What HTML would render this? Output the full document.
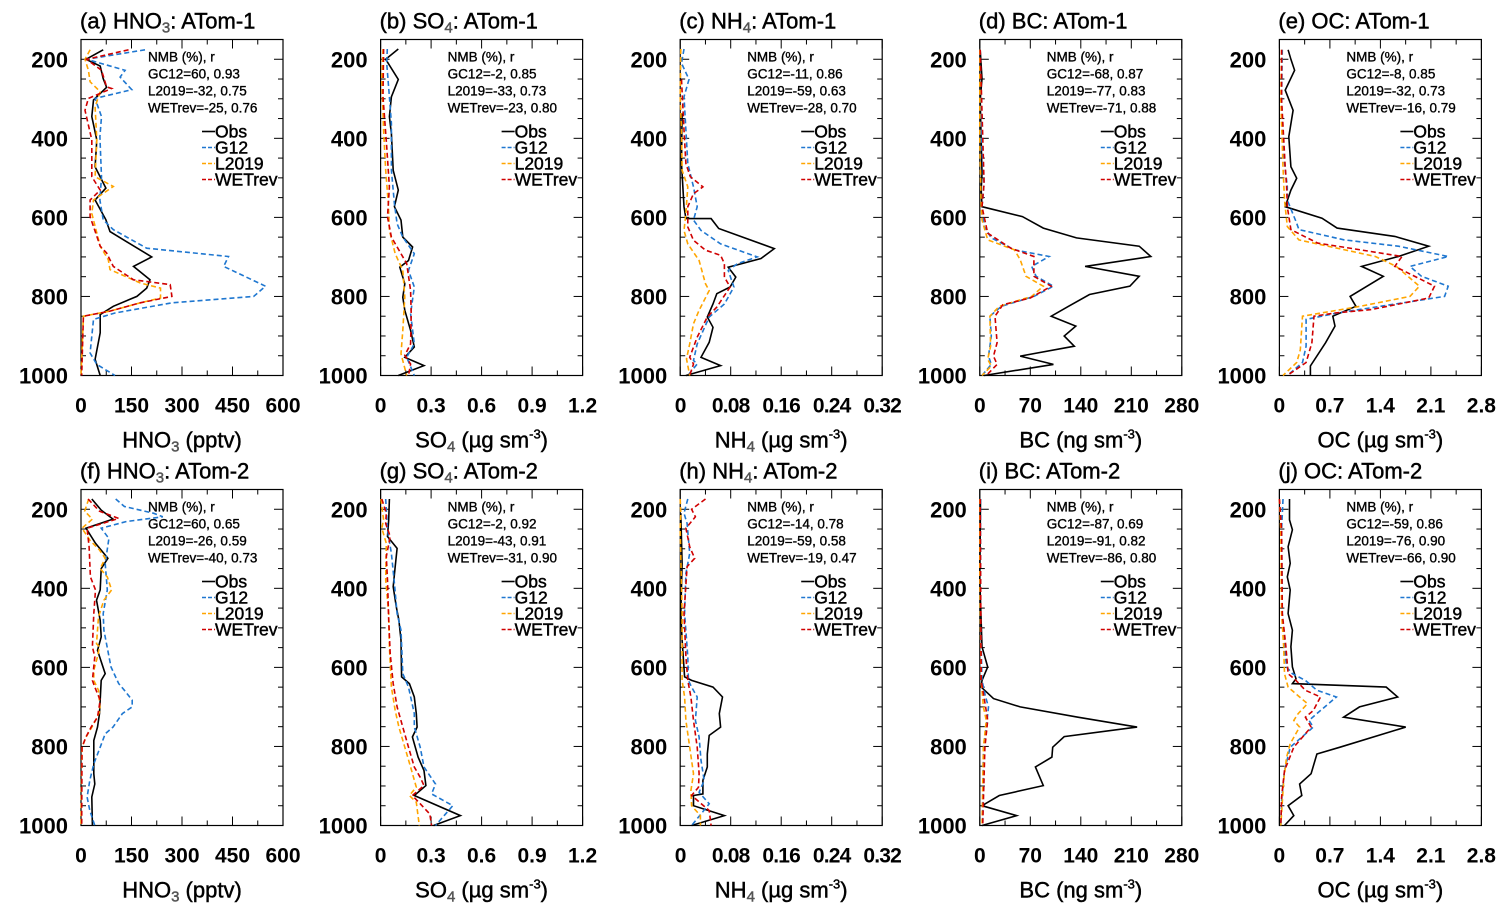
<!DOCTYPE html>
<html><head><meta charset="utf-8">
<style>
html,body{margin:0;padding:0;background:#fff;}
svg{display:block;font-family:"Liberation Sans",Arial,sans-serif;}
.hv{stroke:#000;stroke-width:0.45px;}
</style></head>
<body>
<svg id="fig" width="1510" height="915" viewBox="0 0 1510 915" xmlns="http://www.w3.org/2000/svg"></svg>
<script>
// ---- data: [pressure hPa, value] pairs ----
const aObs=[[176,66],[200,15],[217,57],[249,66],[271,76],[303,37],[345,32],[404,47],[472,42],[526,74],[556,42],[606,74],[636,86],[700,210],[724,156],[758,205],[779,195],[800,166],[825,96],[846,57],[892,57],[959,42],[1000,57]];
const aG12=[[176,190],[200,17],[228,131],[245,116],[277,151],[299,42],[345,61],[396,56],[497,61],[556,56],[606,66],[631,96],[678,195],[699,438],[724,424],[774,548],[800,513],[816,270],[842,101],[858,37],[943,27],[972,47],[1000,101]];
const aL19=[[176,27],[200,12],[228,22],[257,27],[282,57],[320,42],[404,47],[497,42],[522,96],[556,37],[590,32],[673,57],[707,81],[732,86],[766,176],[779,236],[804,236],[816,176],[837,86],[850,7],[1000,0]];
const aWET=[[176,141],[200,17],[228,61],[270,76],[274,91],[299,22],[329,12],[404,32],[497,32],[531,57],[556,27],[598,27],[673,57],[690,76],[724,96],[758,156],[770,265],[800,270],[816,176],[837,86],[850,7],[1000,2]];

const bObs=[[174,0.105],[200,0.03],[251,0.105],[295,0.064],[345,0.052],[388,0.064],[481,0.075],[531,0.105],[573,0.082],[607,0.121],[650,0.132],[675,0.19],[709,0.166],[726,0.114],[768,0.144],[802,0.132],[835,0.144],[886,0.178],[928,0.2],[954,0.144],[975,0.258],[1000,0.105]];
const bG12=[[174,0.04],[210,0.036],[295,0.052],[362,0.064],[481,0.064],[565,0.082],[616,0.098],[650,0.132],[692,0.2],[734,0.166],[776,0.2],[844,0.178],[920,0.2],[954,0.155],[1000,0.2]];
const bL19=[[174,0.014],[252,0.007],[379,0.018],[481,0.03],[565,0.046],[633,0.052],[692,0.087],[734,0.132],[802,0.144],[886,0.132],[945,0.121],[1000,0.155]];
const bWET=[[174,0.018],[295,0.014],[421,0.036],[523,0.052],[599,0.041],[650,0.064],[692,0.121],[717,0.155],[785,0.178],[844,0.182],[920,0.178],[949,0.144],[971,0.178],[1000,0.166]];

const cObs=[[337,0.003],[464,0.002],[573,0.006],[603,0.009],[603,0.049],[628,0.061],[679,0.149],[704,0.128],[726,0.076],[751,0.088],[776,0.079],[793,0.058],[819,0.052],[852,0.043],[878,0.052],[916,0.046],[954,0.033],[975,0.064],[1000,0.009]];
const cG12=[[174,0.006],[210,0.002],[251,0.014],[295,0.006],[379,0.009],[464,0.012],[523,0.021],[573,0.027],[607,0.021],[633,0.033],[667,0.064],[700,0.122],[717,0.091],[734,0.076],[776,0.085],[819,0.07],[852,0.046],[920,0.027],[962,0.021],[971,0.027],[1000,0.012]];
const cL19=[[174,0.001],[295,0],[379,0.002],[481,0.003],[523,0.012],[590,0.009],[633,0.006],[667,0.012],[709,0.03],[768,0.04],[785,0.046],[835,0.03],[869,0.021],[920,0.015],[958,0.01],[1000,0.015]];
const cWET=[[251,0.002],[379,0.006],[464,0.009],[497,0.016],[523,0.036],[540,0.021],[573,0.012],[624,0.012],[658,0.021],[683,0.04],[696,0.064],[717,0.07],[751,0.07],[776,0.079],[827,0.058],[852,0.043],[903,0.027],[954,0.015],[971,0.021],[1000,0.015]];

const dObs=[[176,0.5],[249,3],[303,0.5],[388,1.6],[488,3],[530,2],[573,3],[598,59],[627,88],[652,134],[673,221],[699,237],[724,146],[749,221],[774,208],[795,152],[825,123],[850,99],[875,133],[900,117],[926,131],[951,56],[972,102],[1000,6]];
const dG12=[[176,0.5],[388,1.6],[514,6],[573,3],[623,6],[652,16],[682,48],[699,96],[724,72],[749,78],[774,102],[800,75],[825,30],[850,14],[900,16],[951,12],[972,16],[1000,3]];
const dL19=[[176,0],[404,0],[556,1.6],[606,3],[657,11],[682,48],[707,56],[749,64],[774,88],[800,72],[825,27],[850,14],[926,15],[959,11],[976,16],[1000,3]];
const dWET=[[176,0.5],[514,6],[573,3],[640,11],[678,43],[699,75],[749,75],[774,99],[804,70],[821,32],[850,21],[917,24],[951,19],[972,24],[1000,9]];

const eObs=[[176,0.12],[200,0.16],[228,0.21],[278,0.08],[329,0.19],[396,0.13],[472,0.16],[501,0.24],[531,0.16],[573,0.08],[602,0.59],[627,0.8],[648,1.6],[673,2.07],[699,1.65],[724,1.14],[749,1.44],[800,0.98],[825,1.06],[850,0.74],[875,0.77],[917,0.64],[976,0.43],[1000,0.43]];
const eG12=[[176,0.04],[303,0.03],[430,0.05],[522,0.11],[556,0.11],[615,0.24],[631,0.27],[657,0.9],[673,1.65],[699,2.34],[724,1.81],[749,1.97],[774,2.34],[800,2.29],[842,0.8],[858,0.37],[926,0.37],[967,0.32],[1000,0.11]];
const eL19=[[176,0.03],[303,0.02],[472,0.05],[556,0.07],[623,0.11],[657,0.27],[699,1.33],[724,1.62],[774,1.94],[800,1.81],[825,1.12],[850,0.32],[935,0.29],[967,0.24],[1000,0.05]];
const eWET=[[176,0.03],[303,0.03],[472,0.08],[522,0.1],[573,0.11],[631,0.16],[665,0.53],[682,1.12],[699,1.7],[724,1.6],[774,2.15],[804,2.07],[833,1.28],[842,0.77],[850,0.48],[917,0.45],[967,0.37],[1000,0.11]];

const fObs=[[174,32],[202,60],[225,95],[248,15],[286,43],[324,80],[350,60],[404,57],[430,46],[481,57],[523,60],[557,49],[616,72],[633,60],[717,55],[751,49],[785,38],[869,38],[895,41],[928,32],[1000,34]];
const fG12=[[174,103],[193,129],[210,215],[219,243],[231,135],[248,60],[274,83],[337,72],[404,78],[464,66],[506,68],[599,89],[641,112],[658,129],[683,152],[700,152],[717,123],[751,95],[768,72],[802,57],[844,38],[886,26],[928,18],[962,26],[1000,41]];
const fL19=[[174,23],[205,11],[225,34],[248,3],[278,26],[303,55],[324,72],[350,57],[371,78],[404,91],[430,68],[472,52],[540,46],[548,55],[573,49],[607,38],[633,38],[658,52],[709,57],[743,38],[776,15],[802,3],[1000,0]];
const fWET=[[174,21],[205,55],[223,112],[248,18],[295,24],[371,28],[404,43],[464,38],[548,34],[573,41],[633,34],[650,41],[683,57],[726,49],[751,30],[776,15],[802,3],[1000,2]];

const gObs=[[174,0.052],[227,0.048],[269,0.041],[299,0.098],[345,0.087],[396,0.075],[447,0.093],[481,0.109],[531,0.121],[624,0.125],[641,0.171],[675,0.2],[717,0.212],[751,0.217],[776,0.189],[827,0.223],[861,0.258],[899,0.269],[924,0.2],[975,0.474],[1000,0.315]];
const gG12=[[174,0.03],[252,0.041],[312,0.064],[379,0.08],[464,0.098],[506,0.121],[616,0.132],[650,0.166],[717,0.2],[751,0.2],[768,0.212],[802,0.235],[852,0.258],[895,0.326],[920,0.303],[950,0.429],[1000,0.326]];
const gL19=[[174,0.002],[227,0.018],[248,0.007],[286,0.034],[379,0.03],[464,0.048],[548,0.052],[650,0.064],[709,0.087],[751,0.109],[802,0.144],[852,0.178],[903,0.212],[924,0.171],[941,0.212],[1000,0.23]];
const gWET=[[174,0.007],[210,0.034],[236,0.03],[269,0.057],[320,0.034],[379,0.041],[481,0.048],[565,0.057],[641,0.075],[700,0.098],[751,0.132],[802,0.166],[852,0.2],[878,0.235],[899,0.258],[924,0.189],[971,0.292],[1000,0.303]];

const hObs=[[210,0.001],[337,0.003],[464,0.001],[531,0.003],[624,0.007],[633,0.018],[650,0.052],[675,0.067],[717,0.062],[751,0.064],[772,0.046],[819,0.043],[852,0.043],[886,0.036],[920,0.036],[924,0.021],[950,0.021],[975,0.07],[1000,0.018]];
const hG12=[[174,0.012],[210,0.006],[236,0.011],[312,0.015],[362,0.009],[464,0.007],[573,0.012],[633,0.013],[650,0.018],[675,0.027],[734,0.024],[776,0.03],[835,0.033],[886,0.038],[916,0.03],[945,0.046],[971,0.033],[1000,0.018]];
const hL19=[[174,0],[210,0.001],[252,0],[464,0.003],[633,0.003],[675,0.007],[734,0.009],[802,0.015],[869,0.021],[912,0.017],[950,0.018],[975,0.032],[1000,0.032]];
const hWET=[[174,0.04],[200,0.018],[219,0.024],[248,0.009],[295,0.015],[324,0.023],[345,0.011],[464,0.006],[573,0.009],[633,0.012],[675,0.017],[734,0.021],[802,0.027],[869,0.03],[903,0.029],[924,0.018],[962,0.046],[1000,0.049]];

const iObs=[[174,1],[379,0],[548,3],[599,11],[633,3],[650,2],[679,19],[700,56],[726,136],[751,218],[775,117],[802,101],[827,100],[852,77],[899,88],[924,27],[950,3],[975,51],[1000,3]];
const iG12=[[174,1],[464,1],[633,3],[675,8],[700,12],[751,9],[802,5],[1000,4]];
const iL19=[[174,0],[362,0],[633,2],[700,5],[734,9],[802,5],[1000,3]];
const iWET=[[174,0.5],[633,2],[700,8],[734,11],[802,7],[1000,4]];

const jObs=[[174,0.14],[227,0.14],[252,0.18],[295,0.12],[337,0.15],[371,0.11],[404,0.15],[464,0.12],[506,0.18],[548,0.16],[599,0.18],[629,0.23],[641,0.18],[650,1.48],[675,1.64],[700,1.11],[726,0.89],[751,1.75],[802,0.84],[819,0.52],[869,0.44],[895,0.28],[924,0.31],[950,0.12],[975,0.2],[1000,0.07]];
const jG12=[[174,0.05],[252,0.03],[464,0.04],[548,0.07],[599,0.1],[616,0.18],[633,0.36],[658,0.52],[675,0.79],[717,0.52],[734,0.41],[751,0.47],[802,0.15],[861,0.07],[937,0.03],[1000,0.02]];
const jL19=[[174,0],[252,0.02],[464,0.03],[548,0.06],[616,0.07],[650,0.12],[675,0.28],[692,0.39],[717,0.26],[734,0.2],[751,0.28],[793,0.15],[827,0.1],[886,0.06],[1000,0.02]];
const jWET=[[174,0],[252,0.03],[464,0.04],[548,0.09],[616,0.12],[633,0.23],[658,0.36],[675,0.57],[709,0.47],[726,0.36],[751,0.44],[802,0.2],[861,0.07],[928,0.03],[1000,0.02]];

// ---- tick labels & stats ----
const yTicks=[200,400,600,800,1000];
const xTicksHNO3=["0","150","300","450","600"];
const xTicksSO4=["0","0.3","0.6","0.9","1.2"];
const xTicksNH4=["0","0.08","0.16","0.24","0.32"];
const xTicksBC=["0","70","140","210","280"];
const xTicksOC=["0","0.7","1.4","2.1","2.8"];
const statsA=["GC12=60, 0.93","L2019=-32, 0.75","WETrev=-25, 0.76"];
const statsB=["GC12=-2, 0.85","L2019=-33, 0.73","WETrev=-23, 0.80"];
const statsC=["GC12=-11, 0.86","L2019=-59, 0.63","WETrev=-28, 0.70"];
const statsD=["GC12=-68, 0.87","L2019=-77, 0.83","WETrev=-71, 0.88"];
const statsE=["GC12=-8, 0.85","L2019=-32, 0.73","WETrev=-16, 0.79"];
const statsF=["GC12=60, 0.65","L2019=-26, 0.59","WETrev=-40, 0.73"];
const statsG=["GC12=-2, 0.92","L2019=-43, 0.91","WETrev=-31, 0.90"];
const statsH=["GC12=-14, 0.78","L2019=-59, 0.58","WETrev=-19, 0.47"];
const statsI=["GC12=-87, 0.69","L2019=-91, 0.82","WETrev=-86, 0.80"];
const statsJ=["GC12=-59, 0.86","L2019=-76, 0.90","WETrev=-66, 0.90"];
const seriesNames=["Obs","G12","L2019","WETrev"];
const seriesColors=["#000000","#1f77d0","#ffa500","#d00000"];

const NS="http://www.w3.org/2000/svg";
const svg=document.getElementById('fig');
function mk(tag,attrs,parent){const e=document.createElementNS(NS,tag);for(const k in attrs)e.setAttribute(k,attrs[k]);(parent||svg).appendChild(e);return e;}

const panels=[
 {id:"a",sp:"HNO",sub:"3",camp:"ATom-1",max:600,ticks:xTicksHNO3,unit:" (pptv)",sup:"",stats:statsA,s:[aObs,aG12,aL19,aWET],col:0,row:0},
 {id:"b",sp:"SO",sub:"4",camp:"ATom-1",max:1.2,ticks:xTicksSO4,unit:" (µg sm",sup:"-3",stats:statsB,s:[bObs,bG12,bL19,bWET],col:1,row:0},
 {id:"c",sp:"NH",sub:"4",camp:"ATom-1",max:0.32,ticks:xTicksNH4,unit:" (µg sm",sup:"-3",stats:statsC,s:[cObs,cG12,cL19,cWET],col:2,row:0},
 {id:"d",sp:"BC",sub:"",camp:"ATom-1",max:280,ticks:xTicksBC,unit:" (ng sm",sup:"-3",stats:statsD,s:[dObs,dG12,dL19,dWET],col:3,row:0},
 {id:"e",sp:"OC",sub:"",camp:"ATom-1",max:2.8,ticks:xTicksOC,unit:" (µg sm",sup:"-3",stats:statsE,s:[eObs,eG12,eL19,eWET],col:4,row:0},
 {id:"f",sp:"HNO",sub:"3",camp:"ATom-2",max:600,ticks:xTicksHNO3,unit:" (pptv)",sup:"",stats:statsF,s:[fObs,fG12,fL19,fWET],col:0,row:1},
 {id:"g",sp:"SO",sub:"4",camp:"ATom-2",max:1.2,ticks:xTicksSO4,unit:" (µg sm",sup:"-3",stats:statsG,s:[gObs,gG12,gL19,gWET],col:1,row:1},
 {id:"h",sp:"NH",sub:"4",camp:"ATom-2",max:0.32,ticks:xTicksNH4,unit:" (µg sm",sup:"-3",stats:statsH,s:[hObs,hG12,hL19,hWET],col:2,row:1},
 {id:"i",sp:"BC",sub:"",camp:"ATom-2",max:280,ticks:xTicksBC,unit:" (ng sm",sup:"-3",stats:statsI,s:[iObs,iG12,iL19,iWET],col:3,row:1},
 {id:"j",sp:"OC",sub:"",camp:"ATom-2",max:2.8,ticks:xTicksOC,unit:" (µg sm",sup:"-3",stats:statsJ,s:[jObs,jG12,jL19,jWET],col:4,row:1}
];
const W=202,H=336,PTOP=150,PBOT=1000;

panels.forEach(p=>{
  const L=81+299.6*p.col, T=39.5+450*p.row;
  const xs=v=>L+v/p.max*W;
  const ys=pr=>T+(pr-PTOP)/(PBOT-PTOP)*H;
  const g=mk('g',{});
  
  
  // title
  const t=mk('text',{x:L-1,y:T-11,'font-size':22,'class':'hv'},g);
  
  
  t.appendChild(document.createTextNode('('+p.id+') '+p.sp));
  if(p.sub){const s=mk('tspan',{'font-size':15,dy:4,fill:'#555',stroke:'#555'},t);s.textContent=p.sub;const r=mk('tspan',{dy:-4},t);r.textContent=': '+p.camp;}
  else t.appendChild(document.createTextNode(': '+p.camp));
  // frame
  const fr=mk('rect',{x:L,y:T,width:W,height:H,fill:'none',stroke:'#000','stroke-width':1.2},g);
  
  
  // y ticks
  for(let pr=PTOP;pr<=PBOT;pr+=50){
    const y=ys(pr), len=(pr%200===0)?9:5;
    mk('line',{x1:L,x2:L+len,y1:y,y2:y,stroke:'#000','stroke-width':1},g);
    mk('line',{x1:L+W-len,x2:L+W,y1:y,y2:y,stroke:'#000','stroke-width':1},g);
  }
  yTicks.forEach(v=>{
    const tl=mk('text',{x:L-13,y:ys(v)+8,'font-size':22,'font-weight':'bold','text-anchor':'end'},g);
    
    
    tl.textContent=v;
  });
  // x ticks
  for(let k=0;k<=8;k++){
    const x=L+k*W/8, len=(k%2===0)?9:5;
    mk('line',{x1:x,x2:x,y1:T+H,y2:T+H-len,stroke:'#000','stroke-width':1},g);
    mk('line',{x1:x,x2:x,y1:T,y2:T+len,stroke:'#000','stroke-width':1},g);
  }
  p.ticks.forEach((lab,k)=>{
    const tl=mk('text',{x:L+k*W/4,y:T+H+37,'font-size':21,'font-weight':'bold','text-anchor':'middle','letter-spacing':p.max===0.32?-0.8:0},g);
    
    
    tl.textContent=lab;
  });
  // x axis title
  const xt=mk('text',{x:L+W/2,y:T+H+72,'font-size':22,'text-anchor':'middle','class':'hv'},g);
  
  
  xt.appendChild(document.createTextNode(p.sp));
  if(p.sub){const s=mk('tspan',{'font-size':15,dy:4,fill:'#555',stroke:'#555'},xt);s.textContent=p.sub;const r=mk('tspan',{dy:-4},xt);r.textContent=p.unit;}
  else xt.appendChild(document.createTextNode(p.unit));
  if(p.sup){const s=mk('tspan',{'font-size':13,dy:-9},xt);s.textContent=p.sup;const r=mk('tspan',{dy:9},xt);r.textContent=')';}
  // series
  p.s.forEach((ser,si)=>{
    const pts=ser.map(d=>xs(Math.min(d[1],p.max)).toFixed(1)+','+ys(d[0]).toFixed(1)).join(' ');
    const pl=mk('polyline',{points:pts,fill:'none',stroke:seriesColors[si],'stroke-width':1.6,'stroke-linejoin':'miter'},g);
    if(si>0)pl.setAttribute('stroke-dasharray','5,3');
    
    
  });
  // stats annotation
  const ann=mk('g',{'class':'hv'},g);
  
  
  const hdr=mk('text',{x:L+67,y:T+22,'font-size':13.5,'stroke-width':0.35},ann);hdr.textContent='NMB (%), r';
  p.stats.forEach((s,k)=>{const tx=mk('text',{x:L+67,y:T+39+k*17,'font-size':13.5,'stroke-width':0.35},ann);tx.textContent=s;});
  // legend
  seriesNames.forEach((n,si)=>{
    const yy=T+92+si*16;
    const le=mk('g',{},g);
    
    
    const ln=mk('line',{x1:L+121,x2:L+134,y1:yy,y2:yy,stroke:seriesColors[si],'stroke-width':1.6},le);
    if(si>0)ln.setAttribute('stroke-dasharray','4,2');
    const tx=mk('text',{x:L+134,y:yy+6,'font-size':17.5,'class':'hv'},le);tx.textContent=n;
  });
});
</script>
</body></html>
